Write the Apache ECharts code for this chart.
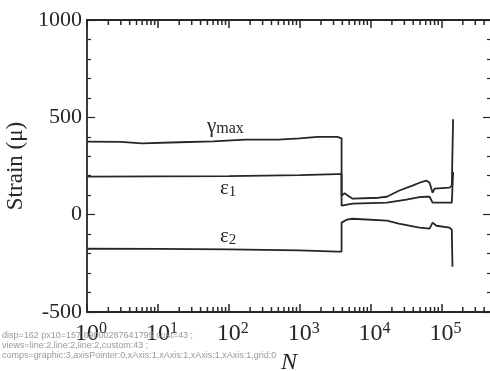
<!DOCTYPE html>
<html>
<head>
<meta charset="utf-8">
<script src="https://cdn.jsdelivr.net/npm/echarts@6/dist/echarts.min.js"></script>
<style>
html, body { margin: 0; padding: 0; background: #fff; }
#main { width: 490px; height: 371px; }
#diag { position: absolute; left: 2px; top: 330px; width: 230px; font: 9px sans-serif; color: #999; }
</style>
</head>
<body>
<div id="main"></div>
<div id="diag"></div>
<script>
const diagLines = [];
window.onerror = function (msg, src, line) { diagLines.push('ERR ' + msg + ' @' + line); };

// cycles N and strain (μ)
const gammaN   = [1, 3, 6, 20, 60, 170, 500, 1000, 1800, 3400, 3900, 3900, 4300, 4700, 5600, 13000, 17000, 25000, 39000, 49000, 61000, 68000, 75000, 80000, 130000, 140000, 146000];
const gammaMax = [375, 374, 366, 372, 377, 385, 385, 392, 400, 400, 392, 98, 110, 100, 82, 87, 92, 123, 149, 164, 175, 164, 113, 134, 139, 149, 490];

const eps1N = [1, 10, 100, 1000, 3400, 3900, 3900, 5600, 17000, 32000, 49000, 61000, 68000, 75000, 80000, 130000, 140000, 146000];
const eps1  = [195, 197, 198, 203, 208, 208, 46, 57, 62, 77, 90, 92, 92, 62, 62, 62, 62, 220];

const eps2N = [1, 10, 100, 1000, 3400, 3900, 3900, 4600, 5600, 17000, 25000, 49000, 68000, 75000, 85000, 130000, 140000, 143000];
const eps2  = [-175, -176, -178, -183, -190, -190, -41, -26, -21, -31, -46, -67, -72, -41, -57, -67, -77, -267];

// log axis minor ticks (2..9 in each decade)
const minorMult = [2, 3, 4, 5, 6, 7, 8, 9];
const decades = [1, 10, 100, 1000, 10000, 100000];

const ink = '#262626';
const serif = 'Liberation Serif';

function pairs (xs, ys) {
  return xs.map((x, i) => [x, ys[i]]);
}

const minorTicks = [];
decades.forEach(d => minorMult.forEach(m => {
  if (d * m < 5e5) minorTicks.push([d * m, -500]);
}));

const lineSeries = (xs, ys) => ({
  type: 'line',
  showSymbol: false,
  symbol: 'none',
  lineStyle: { color: ink, width: 1.8 },
  data: pairs(xs, ys)
});

const xBase = {
  type: 'log',
  logBase: 10,
  min: 1,
  max: 5e5,
  splitLine: { show: false },
  axisLine: { show: true, onZero: false, lineStyle: { color: ink, width: 1.8 } },
  axisTick: { show: true, inside: true, length: 8, lineStyle: { color: ink, width: 1.5 } }
};

const yBase = {
  type: 'value',
  min: -500,
  max: 1000,
  interval: 500,
  splitLine: { show: false },
  axisLine: { show: true, onZero: false, lineStyle: { color: ink, width: 1.8 } },
  axisTick: { show: true, inside: true, length: 8, lineStyle: { color: ink, width: 1.2 } },
  minorTick: { show: true, splitNumber: 5, length: 4, lineStyle: { color: ink, width: 1.2 } }
};

let option = {
  animation: false,
  backgroundColor: '#fff',
  grid: { left: 87, top: 20, width: 404, height: 292, containLabel: false, outerBoundsMode: 'none' },
  xAxis: [
    Object.assign({}, xBase, {
      position: 'bottom',
      name: 'N',
      nameLocation: 'middle',
      nameGap: 37,
      nameTextStyle: { fontFamily: serif, fontSize: 24, fontStyle: 'italic', color: ink },
      axisLabel: {
        margin: 9,
        padding: [0, 0, 0, 8],
        showMaxLabel: false,
        formatter: function (v) {
          const e = Math.round(Math.log10(v));
          if (Math.abs(v / Math.pow(10, e) - 1) > 1e-6) return '';
          return '{b|10}{s|' + e + '}';
        },
        rich: {
          b: { fontFamily: serif, fontSize: 24, color: ink },
          s: { fontFamily: serif, fontSize: 16, color: ink, padding: [0, 0, 10, 0] }
        }
      }
    }),
    Object.assign({}, xBase, {
      position: 'top',
      axisLabel: { show: false }
    })
  ],
  yAxis: [
    Object.assign({}, yBase, {
      position: 'left',
      name: 'Strain (μ)',
      nameLocation: 'middle',
      nameGap: 45,
      nameTextStyle: { fontFamily: serif, fontSize: 23, color: ink },
      axisLabel: {
        margin: 5, fontFamily: serif, fontSize: 22, color: ink,
        formatter: v => String(v)
      }
    }),
    Object.assign({}, yBase, {
      position: 'right',
      axisLabel: { show: false }
    })
  ],
  series: [
    lineSeries(gammaN, gammaMax),
    lineSeries(eps1N, eps1),
    lineSeries(eps2N, eps2),
    {
      type: 'custom',
      clip: false,
      data: minorTicks,
      renderItem: function (params, api) {
        const x = api.coord([api.value(0), -500])[0];
        const yb = api.coord([1, -500])[1];
        const yt = api.coord([1, 1000])[1];
        const st = { stroke: ink, lineWidth: 1.5 };
        return {
          type: 'group',
          children: [
            { type: 'line', shape: { x1: x, y1: yb, x2: x, y2: yb - 5 }, style: st },
            { type: 'line', shape: { x1: x, y1: yt, x2: x, y2: yt + 5 }, style: st }
          ]
        };
      }
    }
  ],
  graphic: [
    {
      type: 'text', left: 207, top: 116,
      style: {
        text: '{g|γ}{s|max}',
        rich: {
          g: { fontFamily: serif, fontSize: 21, fill: ink },
          s: { fontFamily: serif, fontSize: 16, fill: ink, padding: [5, 0, 0, 0] }
        }
      }
    },
    {
      type: 'text', left: 220, top: 178,
      style: {
        text: '{g|ε}{s|1}',
        rich: {
          g: { fontFamily: serif, fontSize: 21, fill: ink },
          s: { fontFamily: serif, fontSize: 15, fill: ink, padding: [8, 0, 0, 0] }
        }
      }
    },
    {
      type: 'text', left: 220, top: 226,
      style: {
        text: '{g|ε}{s|2}',
        rich: {
          g: { fontFamily: serif, fontSize: 21, fill: ink },
          s: { fontFamily: serif, fontSize: 15, fill: ink, padding: [8, 0, 0, 0] }
        }
      }
    }
  ]
};

let myChart = echarts.init(document.getElementById('main'));
try {
  myChart.setOption(option);
} catch (e) {
  diagLines.push('EXC ' + e.message + ' | ' + String(e.stack).split('\n').slice(0, 3).join(' / '));
}
try {
  const zr = myChart.getZr();
  diagLines.push('disp=' + zr.storage.getDisplayList(true).length +
    ' px10=' + JSON.stringify(myChart.convertToPixel({ xAxisIndex: 0 }, 10)) +
    ' cust=' + myChart.getModel().getSeriesByIndex(3).getData().count());
  diagLines.push('views=' + myChart._chartsViews.map(v => v.type + ':' + v.group.childCount()).join(','));
  diagLines.push('comps=' + myChart._componentsViews.map(v => v.type + ':' + v.group.childCount()).join(','));
} catch (e) {
  diagLines.push('DIAG ' + e.message);
}
document.getElementById('diag').textContent = diagLines.join(' ; ');
</script>
</body>
</html>
